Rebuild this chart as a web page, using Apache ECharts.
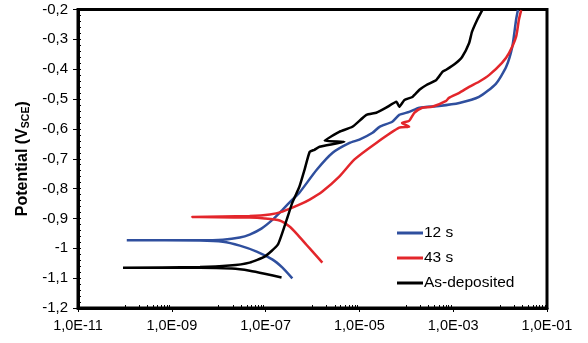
<!DOCTYPE html>
<html>
<head>
<meta charset="utf-8">
<script src="https://cdn.jsdelivr.net/npm/echarts@6/dist/echarts.min.js"></script>
<style>
  html, body { margin: 0; padding: 0; background: #fff; }
  #chart { width: 588px; height: 343px; }
</style>
</head>
<body>
<div id="chart"></div>
<script>
// log10 of current density, and potential (V vs SCE), in scan order
const blackLogCurrent = [-6.66, -7.02, -7.34, -7.72, -8.40, -10.04, -8.40, -7.77, -7.34, -7.02, -6.74, -6.55, -6.43, -6.28, -6.17, -6.06, -5.96, -5.85, -5.32, -5.74, -5.43, -5.15, -4.85, -4.64, -4.43, -4.21, -4.15, -4.04, -3.87, -3.72, -3.57, -3.36, -3.23, -3.15, -2.94, -2.81, -2.66, -2.60, -2.49, -2.38];
const blackPotential = [-1.098, -1.085, -1.075, -1.068, -1.065, -1.065, -1.063, -1.058, -1.048, -1.028, -0.988, -0.904, -0.847, -0.794, -0.737, -0.677, -0.670, -0.660, -0.643, -0.640, -0.610, -0.593, -0.553, -0.546, -0.529, -0.509, -0.526, -0.503, -0.493, -0.469, -0.453, -0.436, -0.409, -0.402, -0.379, -0.359, -0.312, -0.275, -0.235, -0.202];

const blueLogCurrent = [-6.43, -6.64, -6.85, -7.19, -7.55, -7.91, -8.40, -9.96, -8.40, -7.91, -7.55, -7.34, -7.09, -6.85, -6.64, -6.43, -6.28, -5.91, -5.57, -5.21, -5.00, -4.72, -4.57, -4.30, -4.15, -3.94, -3.72, -3.30, -2.87, -2.45, -2.09, -1.87, -1.74, -1.66, -1.62];
const bluePotential = [-1.101, -1.065, -1.038, -1.011, -0.991, -0.978, -0.974, -0.973, -0.973, -0.971, -0.964, -0.954, -0.934, -0.904, -0.871, -0.837, -0.814, -0.737, -0.680, -0.647, -0.636, -0.613, -0.593, -0.576, -0.553, -0.543, -0.529, -0.523, -0.513, -0.493, -0.449, -0.392, -0.325, -0.235, -0.202];

const redLogCurrent = [-5.79, -5.96, -6.13, -6.32, -6.49, -6.70, -7.02, -7.34, -8.57, -7.34, -6.91, -6.64, -6.28, -6.06, -5.79, -5.43, -5.11, -4.64, -4.15, -3.94, -4.09, -3.94, -3.83, -3.66, -3.45, -3.15, -3.09, -2.87, -2.66, -2.45, -2.23, -1.96, -1.81, -1.66, -1.60, -1.55];
const redPotential = [-1.048, -1.018, -0.988, -0.954, -0.927, -0.907, -0.900, -0.897, -0.895, -0.892, -0.887, -0.877, -0.854, -0.837, -0.810, -0.760, -0.703, -0.647, -0.596, -0.593, -0.580, -0.573, -0.546, -0.529, -0.526, -0.506, -0.496, -0.479, -0.459, -0.442, -0.419, -0.379, -0.346, -0.292, -0.235, -0.202];

const seriesNames = ["12 s", "43 s", "As-deposited"];
// decades that carry the small log ticks (one decade after each labelled one)
const minorDecades = [-10, -8, -6, -4, -2];

function pairs(logI, E) {
  return logI.map((v, k) => [Math.pow(10, v), E[k]]);
}

const minorTickValues = [];
minorDecades.forEach(function (d) {
  for (let m = 1; m <= 9; m++) minorTickValues.push(m * Math.pow(10, d));
});

const chart = echarts.init(document.getElementById("chart"));
const font = "Liberation Sans, Arial, sans-serif";

function expLabel(v) {
  const e = Math.round(Math.log10(v));
  return "1,0E" + (e < 0 ? "-" : "+") + String(Math.abs(e)).padStart(2, "0");
}

chart.setOption({
  animation: false,
  grid: {
    left: 78,
    right: 41,
    top: 9.5,
    bottom: 35,
    show: true,
    borderColor: "#000",
    borderWidth: 3,
  },
  legend: {
    orient: "vertical",
    left: 397,
    top: 224,
    padding: 0,
    icon: "rect",
    itemWidth: 26,
    itemHeight: 3,
    itemGap: 7,
    textStyle: { fontFamily: font, fontSize: 15.5, color: "#000", lineHeight: 18, padding: [0, 0, 0, -4] },
    data: seriesNames,
  },
  xAxis: [
    {
      type: "log",
      logBase: 10,
      min: 1e-11,
      max: 1e-1,
      interval: 2,
      axisLine: { lineStyle: { color: "#000", width: 3 } },
      axisTick: { show: true, length: 4, lineStyle: { color: "#000" } },
      splitLine: { show: false },
      axisLabel: {
        fontFamily: font,
        fontSize: 14.5,
        color: "#000",
        margin: 10,
        formatter: expLabel,
      },
    },
    {
      // small log ticks inside the frame
      type: "log",
      logBase: 10,
      min: 1e-11,
      max: 1e-1,
      position: "bottom",
      axisLine: { show: false },
      axisTick: { show: true, inside: true, length: 3, customValues: minorTickValues, lineStyle: { color: "#000" } },
      axisLabel: { show: false },
      splitLine: { show: false },
    },
  ],
  yAxis: [
    {
      type: "value",
      min: -1.2,
      max: -0.2,
      interval: 0.1,
      name: "{a|Potential (V}{s|SCE}{a|)}",
      nameLocation: "middle",
      nameGap: 40,
      nameTextStyle: {
        rich: {
          a: { fontFamily: font, fontSize: 16, fontWeight: "bold", color: "#000" },
          s: { fontFamily: font, fontSize: 10.5, fontWeight: "bold", color: "#000", padding: [7, 0, 0, 0] },
        },
      },
      axisLine: { show: true, lineStyle: { color: "#000", width: 3 } },
      axisTick: { show: true, length: 5, lineStyle: { color: "#000" } },
      splitLine: { show: false },
      axisLabel: {
        fontFamily: font,
        fontSize: 15,
        color: "#000",
        margin: 10,
        formatter: function (v) {
          return String(Math.round(v * 10) / 10).replace(".", ",");
        },
      },
    },
    {
      // inside minor ticks
      type: "value",
      position: "left",
      min: -1.2,
      max: -0.2,
      interval: 0.02,
      axisLine: { show: false },
      axisTick: { show: true, inside: true, length: 3, lineStyle: { color: "#000" } },
      axisLabel: { show: false },
      splitLine: { show: false },
    },
  ],
  series: [
    {
      name: "12 s",
      type: "line",
      symbol: "none",
      smooth: 0.2,
      data: pairs(blueLogCurrent, bluePotential),
      lineStyle: { color: "#2f4f9e", width: 2.5 },
      itemStyle: { color: "#2f4f9e" },
      z: 2,
    },
    {
      name: "43 s",
      type: "line",
      symbol: "none",
      smooth: 0.2,
      data: pairs(redLogCurrent, redPotential),
      lineStyle: { color: "#e3262b", width: 2.5 },
      itemStyle: { color: "#e3262b" },
      z: 3,
    },
    {
      name: "As-deposited",
      type: "line",
      symbol: "none",
      smooth: 0.15,
      data: pairs(blackLogCurrent, blackPotential),
      lineStyle: { color: "#000", width: 2.5 },
      itemStyle: { color: "#000" },
      z: 4,
    },
  ],
});
</script>
</body>
</html>
